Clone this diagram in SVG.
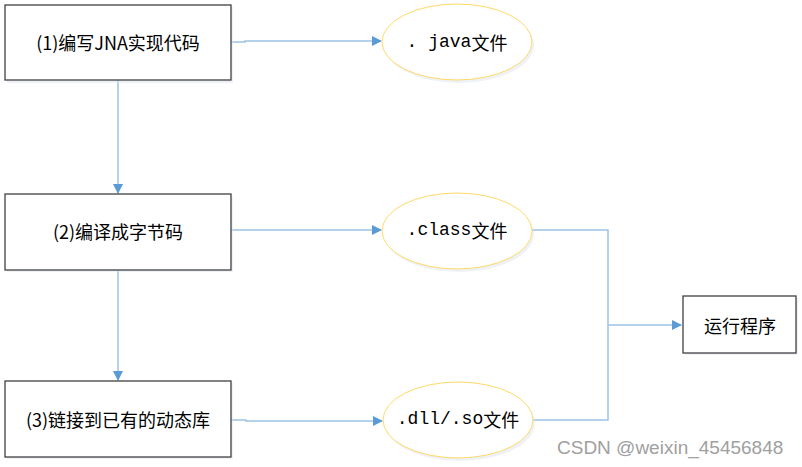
<svg xmlns="http://www.w3.org/2000/svg" width="802" height="467" viewBox="0 0 802 467">
<style>
.box{fill:#fff;stroke:#404040;stroke-width:1.3}
.ell{fill:#fff;stroke:#ffd966;stroke-width:1}
.shadow{fill:#d9e2ee;opacity:0.45}
.t{font-family:"Noto Sans CJK SC","Liberation Sans",sans-serif;font-size:18px;fill:#000;text-anchor:middle;dominant-baseline:central}
.m{font-family:"Liberation Mono","Noto Sans CJK SC",monospace}
.c{fill:none;stroke:#9dc3e6;stroke-width:1.5}
.wm{font-family:"Liberation Sans","Noto Sans",sans-serif;font-size:19px;fill:#a0a0a0}
</style>
<defs>
<marker id="ah" markerWidth="10" markerHeight="10" refX="9" refY="5" orient="auto" markerUnits="userSpaceOnUse">
<path d="M0,0 L10,5 L0,10 Z" fill="#5b9bd5"/>
</marker>
</defs>
<rect width="802" height="467" fill="#fff"/>
<g id="connectors">
<polyline class="c" points="231,42 245,42 245,41 381,41" marker-end="url(#ah)"/>
<line class="c" x1="118" y1="80" x2="118" y2="193" marker-end="url(#ah)"/>
<line class="c" x1="231" y1="230" x2="381" y2="230" marker-end="url(#ah)"/>
<line class="c" x1="118" y1="270" x2="118" y2="380" marker-end="url(#ah)"/>
<polyline class="c" points="231,420 246,420 246,421 382,421" marker-end="url(#ah)"/>
<polyline class="c" points="532,230 608,230 608,420 533,420"/>
<line class="c" x1="608" y1="325" x2="681" y2="325" marker-end="url(#ah)"/>
</g>
<g id="n1">
<rect class="shadow" x="7" y="7" width="226" height="76"/>
<rect class="box" x="5" y="5" width="226" height="75"/>
<text class="t" x="118" y="42">(1)编写JNA实现代码</text>
</g>
<g id="n2">
<rect class="shadow" x="7" y="196" width="226" height="76"/>
<rect class="box" x="5" y="194" width="226" height="76"/>
<text class="t" x="118" y="231">(2)编译成字节码</text>
</g>
<g id="n3">
<rect class="shadow" x="7" y="383" width="226" height="76"/>
<rect class="box" x="5" y="381" width="226" height="76"/>
<text class="t" x="118" y="419">(3)链接到已有的动态库</text>
</g>
<g id="e1">
<ellipse class="shadow" cx="459" cy="45" rx="75" ry="38"/>
<ellipse class="ell" cx="457" cy="42" rx="75" ry="38"/>
<text class="t" x="457" y="42"><tspan class="m">. java</tspan>文件</text>
</g>
<g id="e2">
<ellipse class="shadow" cx="459" cy="234" rx="75" ry="38"/>
<ellipse class="ell" cx="457" cy="231" rx="75" ry="38"/>
<text class="t" x="457" y="230"><tspan class="m">.class</tspan>文件</text>
</g>
<g id="e3">
<ellipse class="shadow" cx="460" cy="423" rx="75" ry="38"/>
<ellipse class="ell" cx="458" cy="420" rx="75" ry="38"/>
<text class="t" x="458" y="419"><tspan class="m">.dll/.so</tspan>文件</text>
</g>
<g id="n4">
<rect class="shadow" x="685" y="298" width="113" height="57"/>
<rect class="box" x="683" y="296" width="113" height="57"/>
<text class="t" x="740" y="325">运行程序</text>
</g>
<text class="wm" x="557" y="454">CSDN @weixin_45456848</text>
</svg>
